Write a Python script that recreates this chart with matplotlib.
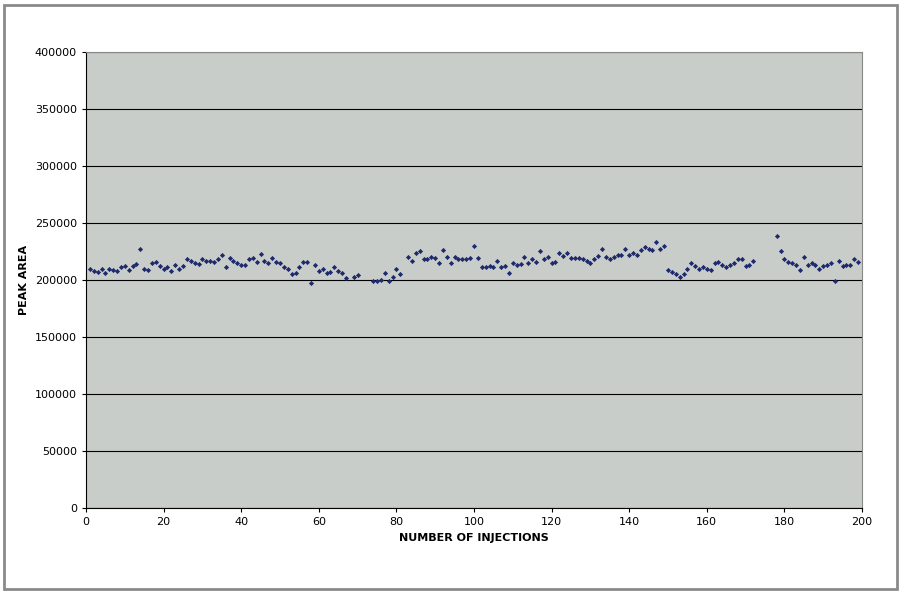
import numpy as np
import matplotlib.pyplot as plt
from matplotlib.patches import Rectangle

nan = np.nan
peak_area = [210000,208000,207000,210000,206000,210000,209000,208000,211000,212000,
 209000,212000,214000,227000,210000,209000,215000,216000,212000,210000,
 211000,208000,213000,210000,212000,218000,217000,215000,214000,218000,
 217000,217000,216000,218000,222000,211000,219000,217000,215000,213000,
 213000,218000,219000,216000,223000,217000,215000,219000,216000,215000,
 211000,210000,205000,206000,211000,216000,216000,197000,213000,208000,
 210000,206000,207000,211000,208000,206000,202000,nan,203000,204000,
 nan,nan,nan,199000,199000,200000,206000,199000,203000,210000,
 205000,nan,220000,217000,224000,225000,218000,218000,220000,219000,
 215000,226000,220000,215000,220000,218000,218000,218000,219000,230000,
 219000,211000,211000,212000,211000,217000,211000,212000,206000,215000,
 213000,214000,220000,215000,218000,216000,225000,218000,220000,215000,
 216000,224000,221000,224000,219000,219000,219000,218000,217000,215000,
 218000,221000,227000,220000,218000,220000,222000,222000,227000,222000,
 224000,222000,226000,229000,227000,226000,233000,227000,230000,209000,
 207000,205000,203000,205000,210000,215000,212000,210000,211000,210000,
 209000,215000,216000,213000,211000,213000,215000,218000,218000,212000,
 213000,217000,nan,nan,nan,nan,nan,239000,225000,218000,
 216000,215000,213000,209000,220000,213000,215000,213000,210000,212000,
 213000,215000,199000,217000,212000,213000,213000,218000,216000,nan]
injections = list(range(1, len(peak_area) + 1))

fig = plt.figure(figsize=(9.02, 5.93), dpi=100)
fig.patches.append(Rectangle((4/902, 4/593), 893/902, 584/593, transform=fig.transFigure,
                             fill=False, edgecolor='#8a8a8a', linewidth=2))
ax = fig.add_axes([86/902, 1-508/593, 776/902, 456/593])
ax.set_facecolor('#C9CDC9')
ax.scatter(injections, peak_area, marker='D', s=7, color='#1F2A6E', zorder=3, linewidths=0)
ax.set_xlim(0, 200)
ax.set_ylim(0, 400000)
ax.set_xticks(range(0, 201, 20))
ax.set_yticks(range(0, 400001, 50000))
ax.yaxis.grid(True, color='black', linewidth=0.8)
ax.set_axisbelow(True)
for s in ['top', 'right']:
    ax.spines[s].set_color('#888888')
for s in ['left', 'bottom']:
    ax.spines[s].set_color('black')
ax.tick_params(labelsize=8, length=3)
ax.set_xlabel('NUMBER OF INJECTIONS', fontsize=8, fontweight='bold')
ax.set_ylabel('PEAK AREA', fontsize=8, fontweight='bold')
fig.savefig('out.png', dpi=100)
